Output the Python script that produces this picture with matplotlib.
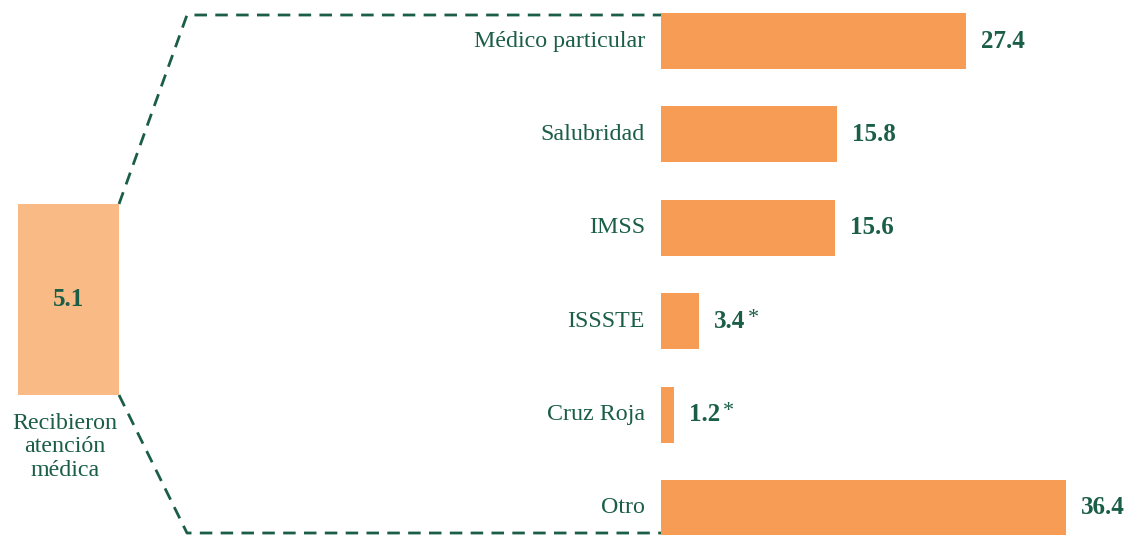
import matplotlib.pyplot as plt
from matplotlib.transforms import Affine2D

categories = ['Médico particular', 'Salubridad', 'IMSS', 'ISSSTE', 'Cruz Roja', 'Otro']
values = [27.4, 15.8, 15.6, 3.4, 1.2, 36.4]
starred = [False, False, False, True, True, False]
total_value = 5.1
total_label = 'Recibieron\natención\nmédica'

GREEN = '#1b5e47'
ORANGE = '#f79c55'
LIGHT = '#f9ba86'
W, H = 1124, 535

plt.rcParams['font.family'] = ['Liberation Serif', 'DejaVu Serif']

fig = plt.figure(figsize=(W / 100, H / 100), dpi=100)

# bars on the right
ax = fig.add_axes([661 / W, 0, (W - 661) / W, 1])
ypos = list(range(len(categories)))
ax.barh(ypos, values, height=0.6, color=ORANGE)
ax.set_xlim(0, (W - 661) / 11.13)
ax.set_ylim(5.29, -0.44)
ax.axis('off')

for y, cat, v, star in zip(ypos, categories, values, starred):
    ax.annotate(cat, (0, y), xytext=(-16, 0), textcoords='offset pixels',
                ha='right', va='center', fontsize=17.3, color=GREEN)
    ax.annotate(f'{v:.1f}', (v, y), xytext=(15, 0), textcoords='offset pixels',
                ha='left', va='center', fontsize=18, fontweight='bold', color=GREEN)
    if star:
        ax.annotate('*', (v, y), xytext=(15 + 34, 3), textcoords='offset pixels',
                    ha='left', va='center', fontsize=16, color=GREEN)

# total box on the left
ax2 = fig.add_axes([18 / W, (H - 395) / H, 101 / W, 191 / H])
ax2.bar([0], [1], width=1, color=LIGHT)
ax2.set_xlim(-0.5, 0.5)
ax2.set_ylim(0, 1)
ax2.axis('off')
ax2.text(0, 0.5, f'{total_value:.1f}', ha='center', va='center', fontsize=18,
         fontweight='bold', color=GREEN)

fig.text(65 / W, 1 - 447 / H, total_label, ha='center', va='center', fontsize=17.3,
         color=GREEN, linespacing=1.13)

# dashed connectors, in pixel coordinates from the top-left corner
pix = Affine2D().scale(1 / W, -1 / H).translate(0, 1) + fig.transFigure
for xs, ys in [([119, 187, 661], [204, 15, 15]), ([119, 187, 661], [395, 533, 533])]:
    fig.add_artist(plt.Line2D(xs, ys, transform=pix, color=GREEN, lw=2.0,
                              dashes=(4.5, 3.0)))

fig.savefig('out.png', dpi=100)
